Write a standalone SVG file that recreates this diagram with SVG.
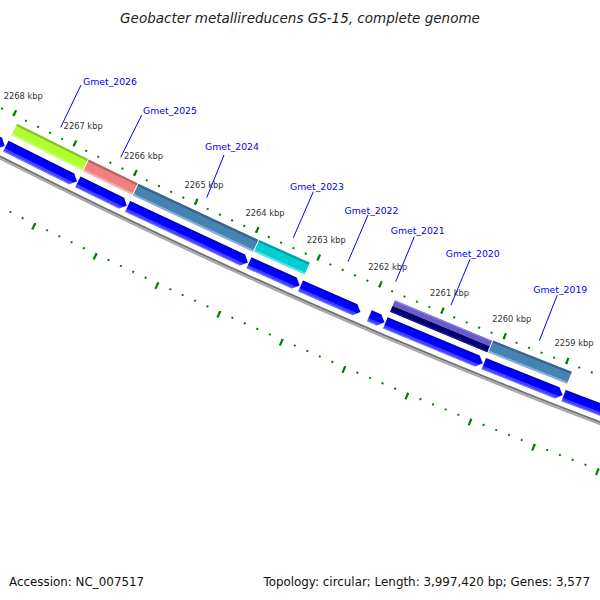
<svg xmlns="http://www.w3.org/2000/svg" width="600" height="600" viewBox="0 0 600 600">
<defs>
<linearGradient id="shade" x1="0" y1="0" x2="0" y2="1">
<stop offset="0" stop-color="#000" stop-opacity="0.22"/>
<stop offset="0.17" stop-color="#000" stop-opacity="0.22"/>
<stop offset="0.19" stop-color="#000" stop-opacity="0"/>
<stop offset="0.82" stop-color="#fff" stop-opacity="0"/>
<stop offset="0.84" stop-color="#fff" stop-opacity="0.3"/>
<stop offset="1" stop-color="#fff" stop-opacity="0.4"/>
</linearGradient>
<linearGradient id="ashade" x1="0" y1="0" x2="0" y2="1">
<stop offset="0" stop-color="#000" stop-opacity="0.3"/>
<stop offset="0.12" stop-color="#000" stop-opacity="0.3"/>
<stop offset="0.14" stop-color="#000" stop-opacity="0"/>
<stop offset="0.68" stop-color="#fff" stop-opacity="0"/>
<stop offset="0.7" stop-color="#fff" stop-opacity="0.22"/>
<stop offset="0.9" stop-color="#fff" stop-opacity="0.28"/>
<stop offset="0.92" stop-color="#fff" stop-opacity="0.45"/>
<stop offset="1" stop-color="#fff" stop-opacity="0.45"/>
</linearGradient>
</defs>
<style>
.tk{fill:none;stroke:#008000}
.bb{fill:none}
.lbl{font-family:'DejaVu Sans',sans-serif;font-size:8.3px;fill:#333;text-anchor:middle}
.gl{font-family:'DejaVu Sans',sans-serif;font-size:9.3px;fill:#0000ff}
.cn line{stroke:#0000ff;stroke-width:1}
.arw{fill:#0000ff}
.sh{fill:url(#shade)}
.ash{fill:url(#ashade)}
.ttl{font-family:'DejaVu Sans',sans-serif;font-size:13.5px;font-style:italic;fill:#222;text-anchor:middle}
.ft{font-family:'DejaVu Sans',sans-serif;font-size:11.9px;fill:#111}
</style>
<rect width="600" height="600" fill="#fff"/>
<g transform="translate(2825,-5412)">
<g id="backbone" class="bb">
<circle r="6244" stroke="#747474" stroke-width="2"/>
<circle r="6246" stroke="#a9a9a9" stroke-width="2"/>
</g>
<g id="ruler-inner" class="tk">
<circle r="6200.5" stroke-width="2" pathLength="360" stroke-dasharray="0.01848 0.10596" stroke-dashoffset="-116.95076"/>
<circle r="6198.75" stroke-width="6.5" pathLength="360" stroke-dasharray="0.02034 0.60186" stroke-dashoffset="-116.94983"/>
</g>
<g id="ruler-outer" class="tk">
<circle r="6289" stroke-width="2" pathLength="360" stroke-dasharray="0.01822 0.10622" stroke-dashoffset="-116.95089"/>
<circle r="6291.5" stroke-width="7" pathLength="360" stroke-dasharray="0.02003 0.60217" stroke-dashoffset="-116.94998"/>
</g>
<g id="tick-labels" class="lbl">
<text transform="rotate(26.96) translate(0,6180) rotate(-26.96)" y="3">2268 kbp</text>
<text transform="rotate(26.3378) translate(0,6180) rotate(-26.3378)" y="3">2267 kbp</text>
<text transform="rotate(25.7156) translate(0,6180) rotate(-25.7156)" y="3">2266 kbp</text>
<text transform="rotate(25.0934) translate(0,6180) rotate(-25.0934)" y="3">2265 kbp</text>
<text transform="rotate(24.4712) translate(0,6180) rotate(-24.4712)" y="3">2264 kbp</text>
<text transform="rotate(23.849) translate(0,6180) rotate(-23.849)" y="3">2263 kbp</text>
<text transform="rotate(23.2268) translate(0,6180) rotate(-23.2268)" y="3">2262 kbp</text>
<text transform="rotate(22.6046) translate(0,6180) rotate(-22.6046)" y="3">2261 kbp</text>
<text transform="rotate(21.9824) translate(0,6180) rotate(-21.9824)" y="3">2260 kbp</text>
<text transform="rotate(21.3602) translate(0,6180) rotate(-21.3602)" y="3">2259 kbp</text>
</g>
<g id="gene-prev" transform="rotate(27.7)">
<polygon class="arw" points="-86.5,6226 80.5,6226 86.5,6232 80.5,6238 -86.5,6238"/>
<polygon class="ash" points="-86.5,6226 80.5,6226 86.5,6232 80.5,6238 -86.5,6238"/>
</g>
<g id="Gmet_2026" transform="rotate(26.53)">
<rect x="-39.62" y="6207" width="79.24" height="13" fill="#adff2f"/>
<rect x="-39.62" y="6207" width="79.24" height="13" class="sh"/>
<polygon class="arw" points="-39.75,6226 33.75,6226 39.75,6232 33.75,6238 -39.75,6238"/>
<polygon class="ash" points="-39.75,6226 33.75,6226 39.75,6232 33.75,6238 -39.75,6238"/>
</g>
<g id="Gmet_2025" transform="rotate(25.905)">
<rect x="-27.15" y="6207" width="54.3" height="13" fill="#f08080"/>
<rect x="-27.15" y="6207" width="54.3" height="13" class="sh"/>
<polygon class="arw" points="-27.24,6226 21.24,6226 27.24,6232 21.24,6238 -27.24,6238"/>
<polygon class="ash" points="-27.24,6226 21.24,6226 27.24,6232 21.24,6238 -27.24,6238"/>
</g>
<g id="Gmet_2024" transform="rotate(25.035)">
<rect x="-66.19" y="6207" width="132.38" height="13" fill="#4682b4"/>
<rect x="-66.19" y="6207" width="132.38" height="13" class="sh"/>
<polygon class="arw" points="-66.39,6226 60.39,6226 66.39,6232 60.39,6238 -66.39,6238"/>
<polygon class="ash" points="-66.39,6226 60.39,6226 66.39,6232 60.39,6238 -66.39,6238"/>
</g>
<g id="Gmet_2023" transform="rotate(24.16)">
<rect x="-27.7" y="6207" width="55.4" height="13" fill="#00ced1"/>
<rect x="-27.7" y="6207" width="55.4" height="13" class="sh"/>
<polygon class="arw" points="-27.78,6226 21.78,6226 27.78,6232 21.78,6238 -27.78,6238"/>
<polygon class="ash" points="-27.78,6226 21.78,6226 27.78,6232 21.78,6238 -27.78,6238"/>
</g>
<g id="Gmet_2022" transform="rotate(23.595)">
<polygon class="arw" points="-32.67,6226 26.67,6226 32.67,6232 26.67,6238 -32.67,6238"/>
<polygon class="ash" points="-32.67,6226 26.67,6226 32.67,6232 26.67,6238 -32.67,6238"/>
</g>
<g id="Gmet_2021" transform="rotate(23.13)">
<polygon class="arw" points="-8.2,6226 2.2,6226 8.2,6232 2.2,6238 -8.2,6238"/>
<polygon class="ash" points="-8.2,6226 2.2,6226 8.2,6232 2.2,6238 -8.2,6238"/>
</g>
<g id="Gmet_2020" transform="rotate(22.56)">
<rect x="-52.64" y="6207.5" width="105.28" height="6" fill="#6a5acd"/>
<rect x="-52.64" y="6207.5" width="105.28" height="1.2" fill="#8c80e2"/>
<rect x="-52.64" y="6213.5" width="105.28" height="6.5" fill="#00006e"/>
<rect x="-52.64" y="6218.6" width="105.28" height="1.4" fill="#1c1c92"/>
<polygon class="arw" points="-52.8,6226 46.8,6226 52.8,6232 46.8,6238 -52.8,6238"/>
<polygon class="ash" points="-52.8,6226 46.8,6226 52.8,6232 46.8,6238 -52.8,6238"/>
</g>
<g id="Gmet_2019" transform="rotate(21.675)">
<rect x="-42.34" y="6207" width="84.68" height="13" fill="#4682b4"/>
<rect x="-42.34" y="6207" width="84.68" height="13" class="sh"/>
<polygon class="arw" points="-42.46,6226 36.46,6226 42.46,6232 36.46,6238 -42.46,6238"/>
<polygon class="ash" points="-42.46,6226 36.46,6226 42.46,6232 36.46,6238 -42.46,6238"/>
</g>
<g id="gene-next" transform="rotate(20.64)">
<polygon class="arw" points="-69.1,6226 63.1,6226 69.1,6232 63.1,6238 -69.1,6238"/>
<polygon class="ash" points="-69.1,6226 63.1,6226 69.1,6232 63.1,6238 -69.1,6238"/>
</g>
</g>
<g id="connectors" class="cn">
<line x1="81" y1="85" x2="60.7" y2="127.3"/>
<line x1="141.7" y1="115" x2="120.7" y2="157.3"/>
<line x1="224" y1="155" x2="206.7" y2="197.7"/>
<line x1="313.3" y1="191.7" x2="293.3" y2="237.7"/>
<line x1="368" y1="215" x2="348" y2="261.7"/>
<line x1="414.3" y1="236.7" x2="395.7" y2="281.7"/>
<line x1="470" y1="259.3" x2="451" y2="305"/>
<line x1="557.3" y1="295" x2="539.3" y2="340.7"/>
</g>
<g id="gene-labels" class="gl">
<text x="83" y="85">Gmet_2026</text>
<text x="143" y="114">Gmet_2025</text>
<text x="205" y="150">Gmet_2024</text>
<text x="290" y="190">Gmet_2023</text>
<text x="344.5" y="213.5">Gmet_2022</text>
<text x="390.7" y="234">Gmet_2021</text>
<text x="445.7" y="257">Gmet_2020</text>
<text x="533.3" y="292.5">Gmet_2019</text>
</g>
<text class="ttl" x="300" y="23">Geobacter metallireducens GS-15, complete genome</text>
<text class="ft" x="9" y="586">Accession: NC_007517</text>
<text class="ft" x="590" y="586" text-anchor="end">Topology: circular; Length: 3,997,420 bp; Genes: 3,577</text>
</svg>
